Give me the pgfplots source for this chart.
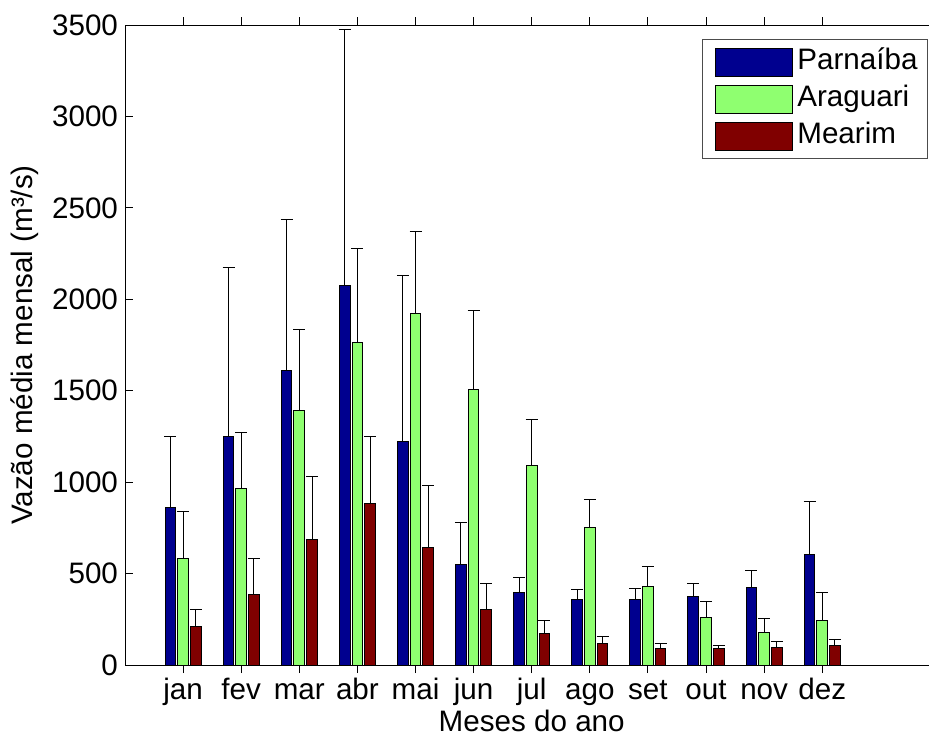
\documentclass[border=0pt]{standalone}
\usepackage{pgfplots}
\pgfplotsset{compat=1.18}
\usepackage{pgfplotstable}
\usepackage{fontspec}
\setmainfont{Liberation Sans}

\definecolor{parnaiba}{rgb}{0,0,0.5625}
\definecolor{araguari}{rgb}{0.5625,1,0.4375}
\definecolor{mearim}{rgb}{0.5,0,0}

% month, mean monthly discharge, upper deviation
\pgfplotstableread{
x y err
1 860 387
2 1247 929
3 1613 824
4 2073 1403
5 1220 909
6 547 235
7 396 85
8 357 55
9 357 60
10 377 71
11 423 93
12 605 288
}\parnaiba
\pgfplotstableread{
x y err
1 580 260
2 964 308
3 1391 445
4 1764 516
5 1921 452
6 1508 433
7 1090 250
8 751 155
9 428 113
10 261 89
11 180 73
12 241 155
}\araguari
\pgfplotstableread{
x y err
1 208 98
2 383 197
3 689 343
4 886 361
5 645 336
6 306 142
7 175 66
8 115 40
9 89 28
10 89 20
11 95 35
12 109 33
}\mearim

\begin{document}
\begin{tikzpicture}
% page frame: the axis box runs on past the right border
\useasboundingbox (-62.5pt,-35.5pt) rectangle (402pt,332.5pt);
\begin{axis}[
  scale only axis,
  width=406.7pt, height=320pt,
  xmin=0, xmax=14,
  ymin=0, ymax=3500,
  xtick={1,...,12},
  xticklabels={jan,fev,mar,abr,mai,jun,jul,ago,set,out,nov,dez},
  ytick={0,500,...,3500},
  xticklabel style={text height=9.8pt, text depth=3.2pt},
  tick align=inside,
  major tick length=4pt,
  axis line style={black, line width=0.5pt},
  tick style={black, line width=0.5pt},
  font=\fontsize{14.8}{17.8}\selectfont,
  /pgf/number format/assume math mode=true,
  /pgf/number format/1000 sep={},
  xlabel={Meses do ano},
  xlabel style={yshift=5pt},
  ylabel={Vazão média mensal (m³/s)},
  ybar=1pt,
  bar width=5.35pt,
  legend cell align=left,
  legend style={
    at={(401.5pt,313pt)}, anchor=north east,
    draw=black!70, line width=0.5pt,
    inner xsep=3pt, inner ysep=2pt,
    row sep=0pt,
    font=\fontsize{14.8}{17.8}\selectfont,
    nodes={text height=11pt, text depth=3.5pt},
  },
  legend image code/.code={
    \path (-3.5pt,0pt);
    \draw[#1, line width=0.5pt] (0pt,-7pt) rectangle (38.5pt,7pt);},
  error bars/y dir=plus,
  error bars/y explicit,
  error bars/error bar style={black, line width=0.5pt},
  error bars/error mark options={black, line width=0.5pt, mark size=3pt, rotate=90},
]
\addplot[fill=parnaiba, draw=black, line width=0.5pt] table[x=x, y=y, y error=err] {\parnaiba};
\addplot[fill=araguari, draw=black, line width=0.5pt] table[x=x, y=y, y error=err] {\araguari};
\addplot[fill=mearim, draw=black, line width=0.5pt] table[x=x, y=y, y error=err] {\mearim};
\legend{Parnaíba, Araguari, Mearim}
\end{axis}
\end{tikzpicture}
\end{document}
